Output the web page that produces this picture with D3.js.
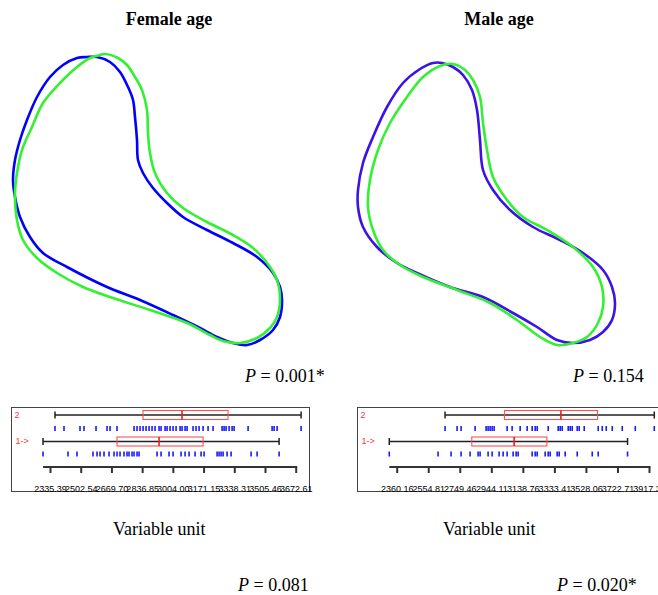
<!DOCTYPE html>
<html>
<head>
<meta charset="utf-8">
<script src="https://cdn.jsdelivr.net/npm/d3@7"></script>
<style>
  body { margin: 0; background: #fff; }
  svg { display: block; }
  .title { font-family: "Liberation Serif", "Times New Roman", serif; font-weight: bold; font-size: 18px; }
  .serif { font-family: "Liberation Serif", "Times New Roman", serif; font-size: 18px; }
  .ticklab { font-family: "Liberation Sans", Arial, sans-serif; font-size: 9px; fill: #000; }
  .grp { font-family: "Liberation Sans", Arial, sans-serif; font-size: 9px; fill: #ff3333; }
</style>
</head>
<body>
<div id="plot"></div>
<script>
// panel titles and p values
const titles = ["Female age", "Male age"]
const shapeP = ["0.001*", "0.154"]
const stripP = ["0.081", "0.020*"]

// outline coordinates (shape space)
const femaleBlue = [[87,57],[97,57],[110,62],[120,72],[128,87],[133,100],[135,117],[137,140],[138,160],[143,173],[153,188],[167,203],[183,217],[207,230],[233,243],[257,257],[273,273],[280,287],[282,300],[280,317],[273,330],[260,340],[247,345],[233,343],[217,337],[200,328],[173,315],[140,300],[107,287],[67,267],[43,253],[30,237],[20,217],[15,197],[13,180],[15,160],[20,140],[27,120],[37,97],[50,77],[63,65],[77,58]]
const femaleGreen = [[105,54],[118,58],[127,65],[135,77],[142,90],[147,110],[148,133],[150,153],[155,173],[167,193],[183,208],[207,222],[233,235],[253,248],[270,267],[278,283],[280,300],[277,317],[270,328],[257,338],[240,343],[223,341],[210,335],[187,323],[150,310],[110,297],[83,287],[57,273],[37,258],[23,240],[17,220],[15,193],[17,173],[22,150],[32,127],[43,103],[60,83],[77,67],[90,58],[100,55]]
const maleBlue = [[102,63],[113,67],[123,75],[132,90],[137,110],[140,140],[143,170],[153,190],[170,210],[193,227],[220,240],[243,253],[263,270],[272,287],[275,303],[272,320],[263,332],[250,340],[233,343],[217,340],[197,327],[173,313],[143,297],[110,287],[77,273],[57,263],[37,247],[23,227],[18,207],[18,190],[23,163],[33,137],[47,107],[63,83],[80,69],[93,63]]
const maleGreen = [[113,64],[125,70],[133,80],[140,97],[143,123],[147,150],[153,177],[167,200],[183,217],[207,230],[233,247],[253,267],[262,287],[263,307],[258,323],[247,337],[233,343],[217,345],[200,337],[177,320],[150,303],[117,290],[83,277],[60,265],[43,250],[33,230],[28,207],[30,180],[38,150],[50,123],[67,97],[83,77],[100,66]]

// strip plot values
const femaleTicks = [2335.39, 2502.54, 2669.70, 2836.85, 3004.00, 3171.15, 3338.31, 3505.46, 3672.61]
const maleTicks = [2360.16, 2554.81, 2749.46, 2944.11, 3138.76, 3333.41, 3528.06, 3722.71, 3917.36]

const female2 = [2362.6, 2411.6, 2498.7, 2520.5, 2585.9, 2645.8, 2662.1, 2700.2, 2792.8, 2809.1, 2825.4, 2841.8, 2858.1, 2874.5, 2890.8, 2907.1, 2928.9, 2939.8, 2961.6, 2972.5, 2988.8, 3005.1, 3021.5, 3043.3, 3054.1, 3070.5, 3081.4, 3114.0, 3130.3, 3146.7, 3168.5, 3195.7, 3222.9, 3271.9, 3282.8, 3293.7, 3310.1, 3326.4, 3337.3, 3413.5, 3544.2, 3555.1, 3571.4, 3702.0]
const female1 = [2297.3, 2433.4, 2482.4, 2569.5, 2591.3, 2607.6, 2629.4, 2656.6, 2683.9, 2700.2, 2716.5, 2738.3, 2754.6, 2765.5, 2781.9, 2792.8, 2809.1, 2820.0, 2918.0, 2939.8, 2983.4, 3005.1, 3048.7, 3070.5, 3092.3, 3124.9, 3157.6, 3173.9, 3244.7, 3255.6, 3266.5, 3277.4, 3299.2, 3321.0, 3429.8, 3462.5, 3582.3]
const male2 = [2658.6, 2732.8, 2757.5, 2844.0, 2912.0, 2924.3, 2936.7, 2949.1, 2961.4, 3041.7, 3072.6, 3122.1, 3165.3, 3196.2, 3214.8, 3227.1, 3295.1, 3356.9, 3369.2, 3381.6, 3418.7, 3431.0, 3443.4, 3474.3, 3486.6, 3517.5, 3604.0, 3628.8, 3653.5, 3690.5, 3752.3, 3832.7, 3950.0]
const male1 = [2314.4, 2615.4, 2695.7, 2757.5, 2813.1, 2862.6, 2874.9, 2924.3, 2949.1, 2992.3, 3017.0, 3041.7, 3078.8, 3097.4, 3109.7, 3196.2, 3214.8, 3227.1, 3276.5, 3295.1, 3307.4, 3350.7, 3363.0, 3400.1, 3474.3, 3567.0, 3604.0, 3785.0]

// box: [q1, median, q3]
const femaleBox2 = [2841.7, 3054.1, 3304.5]
const femaleBox1 = [2700.0, 2928.9, 3168.4]
const maleBox2 = [3025.0, 3373.5, 3599.7]
const maleBox1 = [2823.6, 3085.0, 3287.0]

const W = 658, H = 595

const panels = [
  {ox: 0, title: titles[0], tx: 169, p1: shapeP[0], p1x: 245, p2: stripP[0], p2x: 238, vx: 113,
   blue: femaleBlue, green: femaleGreen, blueCol: "#0000ff",
   ticks: femaleTicks, range: [50, 295.7], g2: female2, g1: female1, b2: femaleBox2, b1: femaleBox1,
   frame: [11.5, 309.5]},
  {ox: 340, title: titles[1], tx: 499, p1: shapeP[1], p1x: 573, p2: stripP[1], p2x: 557, vx: 443,
   blue: maleBlue, green: maleGreen, blueCol: "#3d12e6",
   ticks: maleTicks, range: [396.7, 649], g2: male2, g1: male1, b2: maleBox2, b1: maleBox1,
   frame: [357.5, 720]}
]

const svg = d3.select("#plot").append("svg")
  .attr("width", W)
  .attr("height", H)

const pText = (sel, x, y, val) => {
  const t = sel.append("text").attr("class", "serif").attr("x", x).attr("y", y)
  t.append("tspan").style("font-style", "italic").text("P")
  t.append("tspan").text(" = " + val)
}

panels.forEach(p => {
  // shape outlines
  const sx = d3.scaleLinear().domain([0, 300]).range([p.ox, p.ox + 300])
  const sy = d3.scaleLinear().domain([0, 400]).range([0, 400])
  const line = d3.line()
    .x(d => sx(d[0]))
    .y(d => sy(d[1]))
    .curve(d3.curveCatmullRomClosed)

  svg.append("text")
    .attr("class", "title")
    .attr("x", p.tx)
    .attr("y", 25)
    .attr("text-anchor", "middle")
    .text(p.title)

  svg.append("path").datum(p.blue)
    .attr("d", line)
    .attr("fill", "none")
    .attr("stroke", p.blueCol)
    .attr("stroke-width", 2.6)
  svg.append("path").datum(p.green)
    .attr("d", line)
    .attr("fill", "none")
    .attr("stroke", "#33f033")
    .attr("stroke-width", 2.6)

  pText(svg, p.p1x, 382, p.p1)

  // strip plot
  const x = d3.scaleLinear()
    .domain([p.ticks[0], p.ticks[p.ticks.length - 1]])
    .range(p.range)

  svg.append("rect")
    .attr("x", p.frame[0])
    .attr("y", 407.5)
    .attr("width", p.frame[1] - p.frame[0])
    .attr("height", 84)
    .attr("fill", "none")
    .attr("stroke", "#444")
    .attr("stroke-width", 1)

  const groups = [
    {lab: "2", data: p.g2, box: p.b2, ly: 415, ry: 428.5, lx: p.frame[0] + 3},
    {lab: "1->", data: p.g1, box: p.b1, ly: 441.5, ry: 454, lx: p.frame[0] + 4}
  ]

  groups.forEach(g => {
    const ext = d3.extent(g.data)
    svg.append("text").attr("class", "grp")
      .attr("x", g.lx).attr("y", g.ly + 2.5)
      .text(g.lab)

    svg.append("line")
      .attr("x1", x(ext[0])).attr("x2", x(ext[1]))
      .attr("y1", g.ly).attr("y2", g.ly)
      .attr("stroke", "#222").attr("stroke-width", 1.5)
    for (const v of ext) {
      svg.append("line")
        .attr("x1", x(v)).attr("x2", x(v))
        .attr("y1", g.ly - 3.5).attr("y2", g.ly + 3.5)
        .attr("stroke", "#222").attr("stroke-width", 1.5)
    }
    svg.append("rect")
      .attr("x", x(g.box[0]))
      .attr("y", g.ly - 4.5)
      .attr("width", x(g.box[2]) - x(g.box[0]))
      .attr("height", 9)
      .attr("fill", "none")
      .attr("stroke", "#ff5050")
      .attr("stroke-width", 1.1)
    svg.append("line")
      .attr("x1", x(g.box[1])).attr("x2", x(g.box[1]))
      .attr("y1", g.ly - 4.5).attr("y2", g.ly + 4.5)
      .attr("stroke", "#e82020").attr("stroke-width", 1.6)

    svg.selectAll(null).data(g.data).enter().append("line")
      .attr("x1", d => x(d)).attr("x2", d => x(d))
      .attr("y1", g.ry - 2.5).attr("y2", g.ry + 2.5)
      .attr("stroke", "#1a1aff").attr("stroke-width", 1.6)
  })

  // value axis
  const lo = d3.min([...p.g1, ...p.g2])
  svg.append("line")
    .attr("x1", x(lo)).attr("x2", x(p.ticks[p.ticks.length - 1]) + 1.5)
    .attr("y1", 467).attr("y2", 467)
    .attr("stroke", "#333").attr("stroke-width", 2)

  const ax = svg.append("g")
    .attr("transform", "translate(0,467)")
    .call(d3.axisBottom(x).tickValues(p.ticks).tickFormat(d3.format(".2f")).tickSize(6).tickSizeOuter(0).tickPadding(13))
  ax.select(".domain").remove()
  ax.selectAll(".tick line").attr("stroke", "#333").attr("stroke-width", 2)
  ax.selectAll(".tick text").attr("class", "ticklab").attr("font-size", null).attr("font-family", null).attr("fill", null)

  svg.append("text").attr("class", "serif")
    .attr("x", p.vx).attr("y", 535)
    .text("Variable unit")

  pText(svg, p.p2x, 591, p.p2)
})
</script>
</body>
</html>
